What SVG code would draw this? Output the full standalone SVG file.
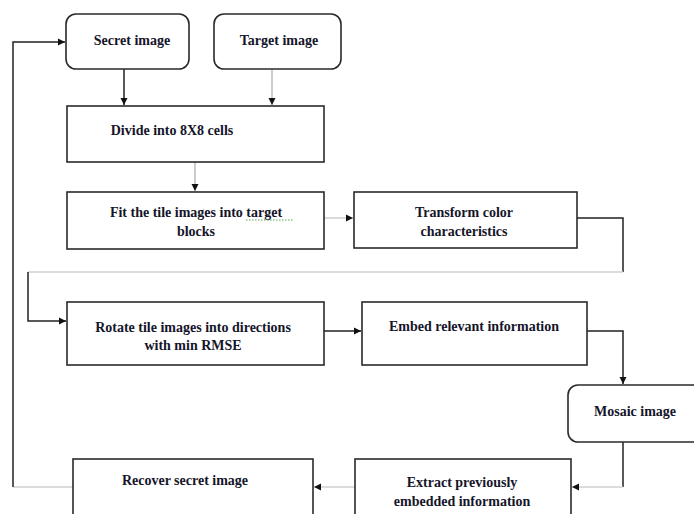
<svg xmlns="http://www.w3.org/2000/svg" width="694" height="514" viewBox="0 0 694 514">
<style>
.box{fill:#fff;stroke:#2a2a2a;stroke-width:1.6}
.t{font-family:"Liberation Serif","Times New Roman",serif;font-weight:bold;font-size:14px;fill:#15152a;text-anchor:middle}
.dk{fill:none;stroke:#222;stroke-width:1.5}
.gy{fill:none;stroke:#aaa;stroke-width:1.2}
.lg{fill:none;stroke:#d0d0d0;stroke-width:1.6}
</style>
<defs>
<marker id="ah" markerWidth="8" markerHeight="8" refX="7" refY="4" orient="auto" markerUnits="userSpaceOnUse">
<path d="M0,0.5 L7,4 L0,7.5 Z" fill="#111"/>
</marker>
</defs>
<rect width="694" height="514" fill="#fff"/>
<g id="connectors">
<path class="dk" d="M124,69 V105" marker-end="url(#ah)"/>
<path class="gy" d="M272,69 V105" marker-end="url(#ah)"/>
<path class="gy" d="M195,162 V191" marker-end="url(#ah)"/>
<path class="lg" d="M324,218 H353" marker-end="url(#ah)"/>
<path class="dk" d="M577,218 H623 V272"/>
<path class="lg" d="M623,272 H28"/>
<path class="dk" d="M28,272 V321 H66" marker-end="url(#ah)"/>
<path class="dk" d="M324,331 H361" marker-end="url(#ah)"/>
<path class="dk" d="M587,331 H623 V384" marker-end="url(#ah)"/>
<path class="dk" d="M623,442 V487"/>
<path class="lg" d="M623,487 H572" marker-end="url(#ah)"/>
<path class="lg" d="M355,487 H314" marker-end="url(#ah)"/>
<path class="lg" d="M73,487 H13"/>
<path class="dk" d="M13,487 V42 H65" marker-end="url(#ah)"/>
</g>
<g id="secret">
<rect class="box" x="66" y="14" width="123" height="55" rx="10"/>
<text class="t" x="132" y="45">Secret image</text>
</g>
<g id="target">
<rect class="box" x="214" y="14" width="127" height="55" rx="10"/>
<text class="t" x="279" y="45">Target image</text>
</g>
<g id="divide">
<rect class="box" x="67" y="106" width="257" height="56"/>
<text class="t" x="172" y="135">Divide into 8X8 cells</text>
</g>
<g id="fit">
<rect class="box" x="67" y="192" width="257" height="57"/>
<text class="t" x="196" y="217">Fit the tile images into target</text>
<text class="t" x="196" y="236">blocks</text>
<path d="M246,220 H293" stroke="#5a5" stroke-width="1" stroke-dasharray="1.5,1.5" fill="none"/>
</g>
<g id="transform">
<rect class="box" x="354" y="192" width="223" height="56"/>
<text class="t" x="464" y="217">Transform color</text>
<text class="t" x="464" y="236">characteristics</text>
</g>
<g id="rotate">
<rect class="box" x="67" y="302" width="257" height="63"/>
<text class="t" x="193" y="332">Rotate tile images into directions</text>
<text class="t" x="193" y="350">with min RMSE</text>
</g>
<g id="embed">
<rect class="box" x="362" y="302" width="225" height="63"/>
<text class="t" x="474" y="331">Embed relevant information</text>
</g>
<g id="mosaic">
<rect class="box" x="568" y="385" width="140" height="57" rx="10"/>
<text class="t" x="635" y="416">Mosaic image</text>
</g>
<g id="extract">
<rect class="box" x="355" y="459" width="216" height="70"/>
<text class="t" x="462" y="487">Extract previously</text>
<text class="t" x="462" y="506">embedded information</text>
</g>
<g id="recover">
<rect class="box" x="73" y="459" width="240" height="70"/>
<text class="t" x="185" y="485">Recover secret image</text>
</g>
</svg>
